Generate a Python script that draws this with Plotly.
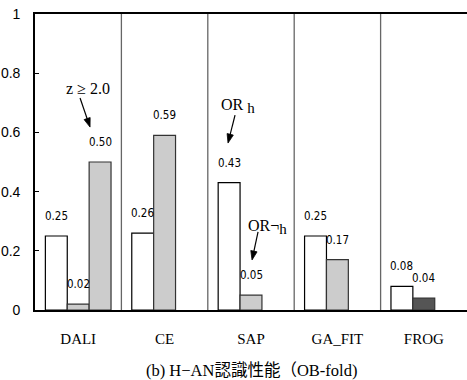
import math
import plotly.graph_objects as go

# Recognition performance per method (OB-fold)
methods = ["DALI", "CE", "SAP", "GA_FIT", "FROG"]
or_h = [0.25, 0.26, 0.43, 0.25, 0.08]          # OR_h
or_not_h = [0.02, 0.59, 0.05, 0.17, 0.04]      # OR¬h
z_ge_2 = [0.50, None, None, None, None]        # z >= 2.0
y_ticks = [0, 0.2, 0.4, 0.6, 0.8, 1.0]
y_tick_labels = ["0", "0.2", "0.4", "0.6", "0.8", "1"]

W, H = 467, 380
M_L, M_R, M_T, M_B = 35, 0, 14, 70
BARGAP = 0.24
plot_w = W - M_L - M_R
plot_h = H - M_T - M_B
group_px = plot_w / len(methods)
bar_px = group_px * (1 - BARGAP) / 3

serif = "Liberation Serif, DejaVu Serif, Noto Sans CJK JP, serif"
narrow = "Liberation Sans Narrow, DejaVu Sans Condensed, Liberation Sans, sans-serif"
sans = "Liberation Sans, Arial, sans-serif"

fig = go.Figure()
fig.add_trace(go.Bar(x=methods, y=or_h, name="OR_h",
                     marker=dict(color="white", line=dict(color="black", width=1.2))))
fig.add_trace(go.Bar(x=methods, y=or_not_h, name="OR¬h",
                     marker=dict(color=["#cccccc"] * 4 + ["#555555"],
                                 line=dict(color="#333333", width=1.2))))
fig.add_trace(go.Bar(x=methods, y=z_ge_2, name="z>=2.0",
                     marker=dict(color="#cccccc", line=dict(color="#333333", width=1.2))))

# value labels above each bar
for k, series in enumerate([or_h, or_not_h, z_ge_2]):
    for m, v in zip(methods, series):
        if v is None:
            continue
        fig.add_annotation(x=m, y=v, xref="x", yref="y", text=f"{v:.2f}",
                           showarrow=False, xshift=(k - 1) * bar_px, yshift=20,
                           font=dict(family=narrow, size=11.5, color="black"))

# group separators
for i in range(len(methods) - 1):
    fig.add_shape(type="line", xref="x", yref="y", x0=i + 0.5, x1=i + 0.5,
                  y0=0, y1=1, line=dict(color="#666666", width=1.3))


def arrow(tip_x, tip_y, dx_px, dy_px, head_len=9, head_half=3.2):
    """Arrow whose tip sits at (tip_x, tip_y); the tail is offset by
    (dx_px, dy_px) screen pixels (dy positive = upward)."""
    sx, sy = 1 / group_px, 1 / plot_h          # pixel -> data units
    length = math.hypot(dx_px, dy_px)
    ux, uy = -dx_px / length, -dy_px / length  # unit vector tail -> tip
    px, py = -uy, ux
    bx, by = -ux * head_len, -uy * head_len    # base of head, relative to tip
    fig.add_shape(type="line", xref="x", yref="y",
                  x0=tip_x + dx_px * sx, y0=tip_y + dy_px * sy,
                  x1=tip_x + bx * 0.6 * sx, y1=tip_y + by * 0.6 * sy,
                  line=dict(color="black", width=1.2))
    pts = [(0, 0), (bx + px * head_half, by + py * head_half),
           (bx - px * head_half, by - py * head_half)]
    path = "M " + " L ".join(f"{tip_x + a * sx},{tip_y + b * sy}" for a, b in pts) + " Z"
    fig.add_shape(type="path", xref="x", yref="y", path=path,
                  fillcolor="black", line=dict(color="black", width=0.8))


# callouts
callout_font = dict(family=serif, size=16, color="black")
sub_h = "<sub><span style='font-size:15px'>h</span></sub>"
fig.add_annotation(x=0.113, y=0.75, xref="x", yref="y", text="z ≥ 2.0",
                   showarrow=False, font=callout_font)
fig.add_annotation(x=1.85, y=0.69, xref="x", yref="y", text="OR " + sub_h,
                   showarrow=False, font=callout_font)
fig.add_annotation(x=2.19, y=0.28, xref="x", yref="y", text="OR¬" + sub_h,
                   showarrow=False, font=callout_font)
arrow(0.137, 0.618, -10, 29)
arrow(1.734, 0.564, 7, 28)
arrow(2.012, 0.169, 6, 28)

fig.add_annotation(x=0.5, y=-0.203, xref="paper", yref="paper", yanchor="middle",
                   text="(b) H−AN認識性能（OB-fold)", showarrow=False,
                   font=dict(family=serif, size=16.5, color="black"))

fig.update_layout(
    width=W, height=H,
    margin=dict(l=M_L, r=M_R, t=M_T, b=M_B),
    paper_bgcolor="white", plot_bgcolor="white",
    barmode="group", bargap=BARGAP, bargroupgap=0,
    showlegend=False,
    xaxis=dict(range=[-0.5, len(methods) - 0.5], showline=True, linecolor="black",
               linewidth=1.6, mirror=True, ticks="", showgrid=False,
               tickfont=dict(family=serif, size=15, color="black"),
               ticklabelstandoff=14),
    yaxis=dict(range=[0, 1], tickvals=y_ticks, ticktext=y_tick_labels,
               showline=True, linecolor="black", linewidth=1.6, ticks="inside",
               ticklen=4, tickcolor="black", showgrid=False, zeroline=False,
               tickfont=dict(family=sans, size=14, color="black"),
               ticklabelstandoff=10),
)

fig.write_html("out.html")
